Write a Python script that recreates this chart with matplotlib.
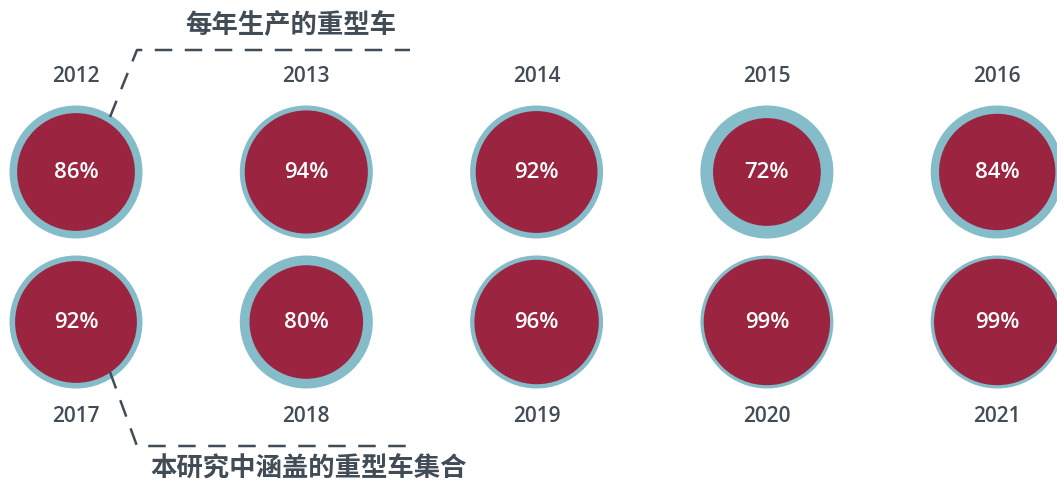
import matplotlib.pyplot as plt
from matplotlib.patches import Circle
import numpy as np

plt.rcParams['font.family'] = ['Open Sans', 'Noto Sans CJK SC', 'DejaVu Sans']

# 数据
years_top = ['2012', '2013', '2014', '2015', '2016']
years_bottom = ['2017', '2018', '2019', '2020', '2021']
share_top = [86, 94, 92, 72, 84]
share_bottom = [92, 80, 96, 99, 99]
title_top = '每年生产的重型车'
title_bottom = '本研究中涵盖的重型车集合'

outer_col = '#84bcc9'
inner_col = '#9b2540'
text_col = '#414c56'

W, H = 1057, 482
fig = plt.figure(figsize=(W / 100, H / 100), dpi=100)
ax = fig.add_axes([0, 0, 1, 1])
ax.set_xlim(0, W)
ax.set_ylim(H, 0)
ax.set_aspect('equal')
ax.axis('off')

x0, dx = 76, 230.3
row_y = [172, 322]
R_out, R_in = 66.5, 63.5

for row, (years, shares) in enumerate([(years_top, share_top), (years_bottom, share_bottom)]):
    cy = row_y[row]
    for i, (yr, p) in enumerate(zip(years, shares)):
        cx = x0 + i * dx
        ax.add_patch(Circle((cx, cy), R_out, color=outer_col, lw=0))
        ax.add_patch(Circle((cx, cy), R_in * np.sqrt(p / 100), color=inner_col, lw=0))
        ax.text(cx, cy + 1, f'{p}%', color='white', fontsize=16, fontweight='semibold',
                ha='center', va='center')
        ty = cy - 96 if row == 0 else cy + 95
        ax.text(cx, ty, yr, color=text_col, fontsize=15, fontweight='semibold',
                ha='center', va='center')

# 引导线
ax.plot([110, 137, 410], [117, 50, 50], color=text_col, lw=1.8,
        dashes=(7, 5))
ax.plot([110, 137, 410], [372, 446, 446], color=text_col, lw=1.8,
        dashes=(7, 5))

ax.text(185, 26, title_top, color=text_col, fontsize=19, fontweight='bold',
        ha='left', va='center', family=['Noto Sans CJK SC', 'DejaVu Sans'])
ax.text(150, 469, title_bottom, color=text_col, fontsize=19, fontweight='bold',
        ha='left', va='center', family=['Noto Sans CJK SC', 'DejaVu Sans'])

fig.savefig('out.png', dpi=100)
